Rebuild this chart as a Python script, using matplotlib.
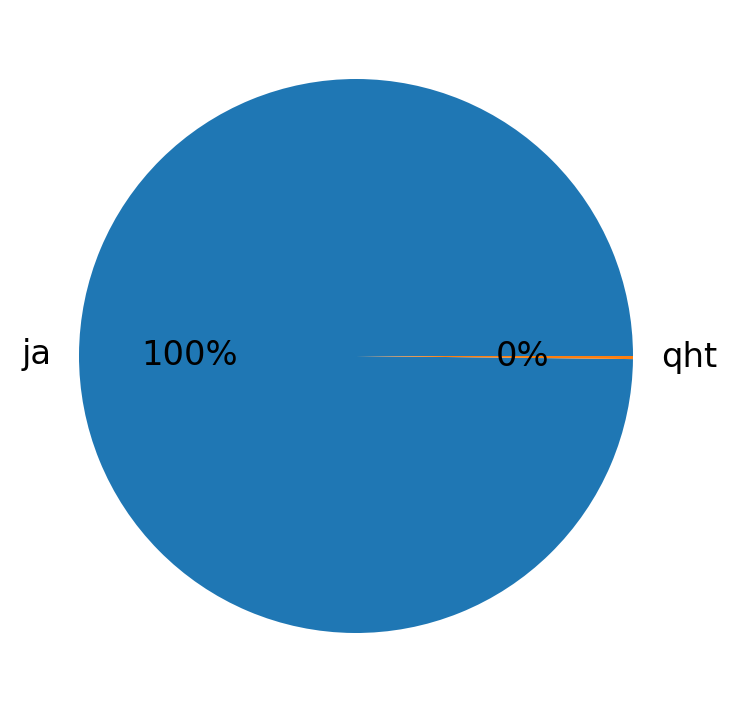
import matplotlib
matplotlib.use("Agg")
import matplotlib.pyplot as plt

# categorias e contagens
labels = ["ja", "qht"]
counts = [560, 1]

fig = plt.figure(figsize=(7.29, 7.13), dpi=100)
ax = fig.add_axes([9.75 / 729, 10.75 / 713, 692.5 / 729, 692.5 / 713])
ax.pie(counts, labels=labels, autopct='%1.0f%%', textprops={'fontsize': 24.3})
ax.set_xlim(-1.25, 1.25)
ax.set_ylim(-1.25, 1.25)
ax.set_aspect('equal')
fig.savefig("out.png", dpi=100)
